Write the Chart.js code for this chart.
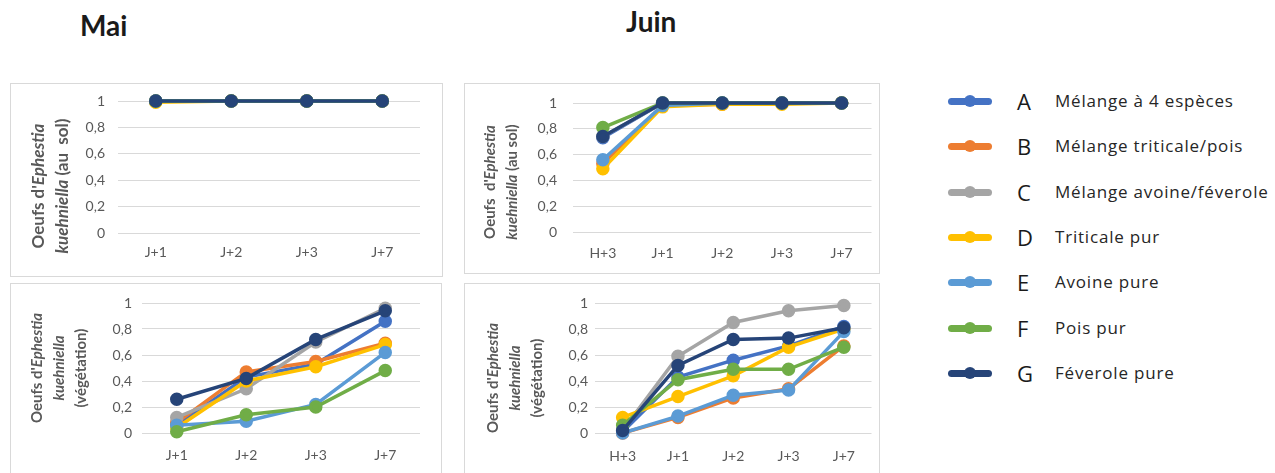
<!DOCTYPE html>
<html>
<head>
<meta charset="utf-8">
<script src="https://cdn.jsdelivr.net/npm/chart.js@4.4.0/dist/chart.umd.min.js"></script>
<style>
  body { margin: 0; background: #fff; width: 1275px; height: 473px; overflow: hidden; position: relative; font-family: Lato, sans-serif; }
  .box { position: absolute; border: 1px solid #d9d9d9; box-sizing: border-box; }
  canvas { position: absolute; }
  .titre { position: absolute; font-weight: bold; font-size: 28px; color: #1a1a1a; line-height: 28px; }
  .ytitre { position: absolute; transform: translate(-50%, -50%) rotate(-90deg); white-space: pre; text-align: center; font-weight: bold; color: #595959; }
  .leg { position: absolute; height: 24px; }
  .leg .trait { position: absolute; left: 0; top: 9px; width: 44px; height: 7px; border-radius: 4px; }
  .leg .pt { position: absolute; left: 16px; top: 6px; width: 12px; height: 12px; border-radius: 50%; }
  .leg .lettre { position: absolute; left: 69px; top: -3px; font-size: 22px; color: #1a1a1a; font-family: "Open Sans", sans-serif; }
  .leg .nom { position: absolute; left: 107px; top: 0px; font-size: 17px; letter-spacing: 0.8px; color: #262626; white-space: nowrap; font-family: "Open Sans", sans-serif; }
</style>
</head>
<body>
<div class="titre" style="left:80px; top:11px;">Mai</div>
<div class="titre" style="left:626px; top:7px;">Juin</div>

<script>
// series
var lettres = ['A', 'B', 'C', 'D', 'E', 'F', 'G'];
var noms = ['Mélange à 4 espèces', 'Mélange triticale/pois', 'Mélange avoine/féverole',
  'Triticale pur', 'Avoine pure', 'Pois pur', 'Féverole pure'];
var couleurs = ['#4472C4', '#ED7D31', '#A5A5A5', '#FFC000', '#5B9BD5', '#70AD47', '#264478'];

var catMai = ['J+1', 'J+2', 'J+3', 'J+7'];
var catJuin = ['H+3', 'J+1', 'J+2', 'J+3', 'J+7'];

// une ligne par série A..G
var maiSol = [
  [1, 1, 1, 1],
  [1, 1, 1, 1],
  [1, 1, 1, 1],
  [0.99, 1, 1, 1],
  [1, 1, 1, 1],
  [1, 1, 1, 1],
  [1, 1, 1, 1]
];
var maiVeg = [
  [0.06, 0.43, 0.53, 0.86],
  [0.08, 0.47, 0.55, 0.69],
  [0.12, 0.34, 0.70, 0.96],
  [0.04, 0.40, 0.51, 0.68],
  [0.06, 0.09, 0.22, 0.62],
  [0.01, 0.14, 0.20, 0.48],
  [0.26, 0.42, 0.72, 0.94]
];
var juinSol = [
  [0.73, 1, 1, 1, 1],
  [0.53, 0.98, 0.99, 1, 1],
  [0.74, 1, 1, 1, 1],
  [0.49, 0.97, 0.99, 0.99, 1],
  [0.56, 0.98, 1, 1, 1],
  [0.81, 1, 1, 1, 1],
  [0.74, 1, 1, 1, 1]
];
var juinVeg = [
  [0.01, 0.43, 0.56, 0.67, 0.82],
  [0, 0.12, 0.27, 0.34, 0.67],
  [0.02, 0.59, 0.85, 0.94, 0.98],
  [0.12, 0.28, 0.44, 0.66, 0.80],
  [0, 0.13, 0.29, 0.33, 0.78],
  [0.06, 0.41, 0.49, 0.49, 0.66],
  [0.02, 0.52, 0.72, 0.73, 0.81]
];

var yTicks = [0, 0.2, 0.4, 0.6, 0.8, 1];

function graphe(box, zone, cats, data, padY, padX) {
  var div = document.createElement('div');
  div.className = 'box';
  div.style.left = box[0] + 'px'; div.style.top = box[1] + 'px';
  div.style.width = box[2] + 'px'; div.style.height = box[3] + 'px';
  document.body.appendChild(div);

  var cv = document.createElement('canvas');
  cv.width = box[2]; cv.height = box[3];
  cv.style.left = box[0] + 'px'; cv.style.top = box[1] + 'px';
  cv.style.width = box[2] + 'px'; cv.style.height = box[3] + 'px';
  document.body.appendChild(cv);

  var yW = 40, xH = 30;
  var ds = [];
  for (var i = 0; i < data.length; i++) {
    ds.push({
      label: noms[i],
      data: data[i],
      borderColor: couleurs[i],
      backgroundColor: couleurs[i],
      borderWidth: 3.5,
      pointRadius: 5,
      pointHoverRadius: 5,
      tension: 0,
      clip: false,
      order: 7 - i
    });
  }
  new Chart(cv, {
    type: 'line',
    data: { labels: cats, datasets: ds },
    options: {
      responsive: false,
      animation: false,
      layout: {
        padding: {
          left: zone[0] - box[0] - yW,
          right: box[0] + box[2] - zone[1],
          top: zone[2] - box[1],
          bottom: box[1] + box[3] - zone[3] - xH
        }
      },
      plugins: { legend: { display: false }, tooltip: { enabled: false } },
      scales: {
        x: {
          offset: true,
          grid: { display: false, drawTicks: false },
          border: { display: false },
          ticks: { color: '#595959', font: { family: 'Lato', size: 14 }, padding: padX },
          afterFit: function (s) { s.height = xH; }
        },
        y: {
          min: 0, max: 1,
          afterBuildTicks: function (s) { s.ticks = yTicks.map(function (v) { return { value: v }; }); },
          grid: { color: '#d9d9d9', lineWidth: 1, drawTicks: false },
          border: { display: false },
          ticks: {
            color: '#595959', font: { family: 'Lato', size: 14, lineHeight: 0.5 }, padding: padY,
            callback: function (v) { return String(Math.round(v * 10) / 10).replace('.', ','); }
          },
          afterFit: function (s) { s.width = yW; }
        }
      }
    }
  });
}

function ytitre(x, y, size, html) {
  var d = document.createElement('div');
  d.className = 'ytitre';
  d.style.left = x + 'px'; d.style.top = y + 'px';
  d.style.fontSize = size + 'px';
  d.style.lineHeight = (size + 7) + 'px';
  d.innerHTML = html;
  document.body.appendChild(d);
}

graphe([10, 83, 433, 194], [118, 420, 101, 233], catMai, maiSol, 13, 11);
graphe([10, 283, 432, 200], [142, 420, 303, 433], catMai, maiVeg, 10, 14);
graphe([464, 83, 416, 191], [573, 873, 103, 232], catJuin, juinSol, 16, 13);
graphe([464, 283, 416, 200], [595, 875, 303, 433], catJuin, juinVeg, 7, 15);

ytitre(50, 186, 17, "Oeufs d'<i>Ephestia</i>\n<i>kuehniella</i> (au  sol)");
ytitre(58, 368, 15, "Oeufs d'<i>Ephestia</i>\n<i>kuehniella</i>\n(végétation)");
ytitre(500, 182, 15, "Oeufs  d'<i>Ephestia</i>\n<i>kuehniella</i> (au sol)");
ytitre(514, 378, 15, "Oeufs d'<i>Ephestia</i>\n<i>kuehniella</i>\n(végétation)");

// légende
for (var k = 0; k < noms.length; k++) {
  var row = document.createElement('div');
  row.className = 'leg';
  row.style.left = '948px';
  row.style.top = (89 + k * 45.3) + 'px';
  row.innerHTML = '<div class="trait" style="background:' + couleurs[k] + '"></div>' +
    '<div class="pt" style="background:' + couleurs[k] + '"></div>' +
    '<div class="lettre">' + lettres[k] + '</div>' +
    '<div class="nom">' + noms[k] + '</div>';
  document.body.appendChild(row);
}
</script>
</body>
</html>
